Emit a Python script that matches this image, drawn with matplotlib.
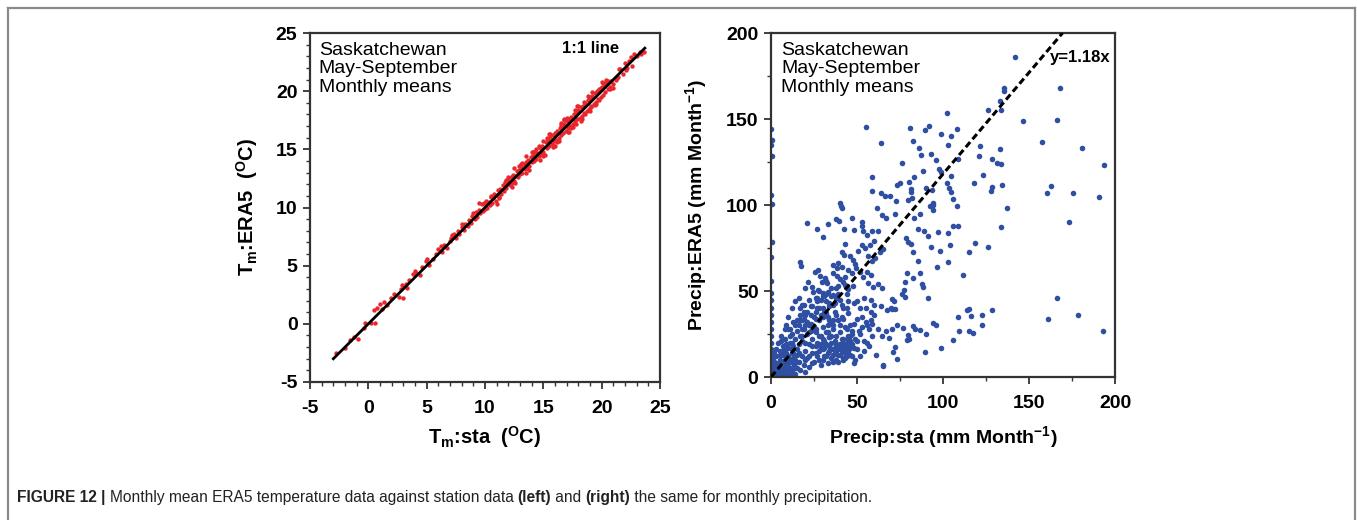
import matplotlib
matplotlib.use("Agg")
import matplotlib.pyplot as plt
from matplotlib.lines import Line2D

plt.rcParams["font.family"] = ["Liberation Sans", "DejaVu Sans"]
plt.rcParams["mathtext.default"] = "regular"
plt.rcParams["axes.unicode_minus"] = False

# ---- monthly mean temperature, station vs ERA5 (deg C) ----
tm_sta_low = [-2.8, -2.0, -1.6, -1.2, -0.9, -0.4, -0.3, 0.2, 0.6, 0.5, 0.7, 1.2, 1.3, 1.6, 1.9,
              2.2, 2.6, 2.8, 3.0, 2.9, 3.2, 3.5, 3.8, 4.1, 4.4, 4.6, 4.9, 5.2, 5.5, 5.8]
tm_era_low = [-2.5, -2.1, -1.4, -1.1, -1.3, -0.4, 0.1, 0.1, 0.1, 1.2, 1.4, 1.3, 1.9, 1.6, 2.2,
              2.6, 2.3, 3.0, 2.2, 3.3, 3.4, 3.8, 4.3, 4.4, 4.2, 4.9, 5.4, 5.1, 5.6, 6.0]

tm_sta_mid = [6.0, 6.3, 6.5, 6.7, 7.0, 7.1, 7.3, 7.5, 7.7, 7.8, 8.0, 8.2, 8.3, 8.5, 8.6, 8.8,
              8.9, 9.1, 9.2, 9.3, 9.5, 9.6, 9.7, 9.8, 9.9, 10.0, 10.1, 10.2]
tm_era_mid = [6.4, 6.2, 6.8, 6.5, 7.1, 7.4, 7.7, 7.4, 8.0, 7.7, 8.3, 8.1, 8.6, 8.4, 8.9, 8.7,
              9.3, 9.0, 9.6, 9.2, 9.8, 9.5, 10.3, 9.7, 10.4, 9.9, 10.6, 10.0]

tm_sta_warm = [10.3, 10.4, 10.5, 10.6, 10.7, 10.8, 10.9, 11.0, 11.1, 11.2,
               11.3, 11.4, 11.5, 11.6, 11.7, 11.8, 11.9, 12.0, 12.1, 12.2,
               12.3, 12.4, 12.5, 12.6, 12.7, 12.8, 12.9, 13.0, 13.1, 13.2,
               13.3, 13.4, 13.5, 13.6, 13.7, 13.8, 13.9, 14.0, 14.1, 14.2,
               14.3, 14.4, 14.5, 14.6, 14.7, 14.8, 14.9, 15.0, 15.1]
tm_era_warm = [10.5, 10.2, 10.9, 10.4, 10.8, 11.2, 10.6, 11.1, 11.5, 10.9,
               11.6, 11.2, 11.9, 11.4, 12.2, 11.7, 12.0, 12.4, 11.9, 12.6,
               12.1, 12.8, 12.3, 12.7, 13.1, 12.6, 13.2, 12.9, 13.5, 13.0,
               13.7, 13.3, 13.9, 13.4, 14.1, 13.6, 14.3, 13.9, 14.5, 14.0,
               14.8, 14.2, 14.7, 14.4, 15.1, 14.6, 15.3, 14.8, 14.5]

tm_sta_hot = [15.2, 15.3, 15.4, 15.5, 15.6, 15.7, 15.8, 15.9, 16.0, 16.1,
              16.2, 16.3, 16.4, 16.5, 16.6, 16.7, 16.8, 16.9, 17.0, 17.1,
              17.2, 17.3, 17.4, 17.5, 17.6, 17.7, 17.8, 17.9, 18.0, 18.1,
              18.2, 18.3, 18.4, 18.5, 18.6, 18.7, 18.8, 18.9, 19.0, 19.1,
              19.2, 19.3, 19.4, 19.5, 19.6, 19.7, 19.8, 19.9, 20.0, 20.1,
              20.2, 20.3, 20.4, 20.5, 20.6, 20.7, 20.8,
              21.0, 21.2, 21.4, 21.6, 21.8, 22.0, 22.1, 22.3, 22.6, 22.8, 23.0, 23.3, 23.6, 23.4, 22.2]
tm_era_hot = [15.6, 15.1, 15.8, 15.3, 16.1, 15.5, 16.2, 15.7, 16.4, 15.8,
              16.6, 16.0, 16.8, 16.2, 17.0, 16.4, 17.2, 16.6, 17.4, 16.8,
              17.6, 17.0, 17.8, 17.2, 18.0, 17.4, 18.1, 17.6, 18.4, 17.7,
              18.6, 17.9, 18.7, 18.1, 19.0, 18.3, 19.2, 18.5, 19.4, 18.7,
              19.6, 18.9, 19.8, 19.1, 20.0, 19.3, 20.2, 19.5, 20.4, 19.7,
              20.6, 19.9, 20.7, 20.2, 20.8, 20.4, 20.9,
              20.6, 21.0, 21.2, 21.9, 21.5, 22.4, 21.8, 22.6, 22.2, 23.2, 23.0, 23.4, 23.4, 23.2, 22.0]

tm_sta_extra = [16.0, 17.5, 18.2, 19.0, 14.0, 15.5, 12.5, 11.0, 16.8, 17.9,
                13.5, 9.5, 15.8, 16.5, 17.2, 18.8, 19.4, 20.0, 14.6, 13.0]
tm_era_extra = [15.3, 16.9, 17.4, 18.3, 14.8, 16.3, 13.4, 10.3, 17.6, 18.7,
                14.4, 10.4, 15.2, 17.3, 16.5, 19.6, 18.8, 20.8, 15.3, 13.6]

tm_sta_band = [12.0, 12.6, 13.2, 13.8, 14.4, 15.0, 15.6, 16.2, 16.8, 17.4, 18.0, 18.6, 19.2, 19.8, 20.4, 21.0,
               12.3, 12.9, 13.5, 14.1, 14.7, 15.3, 15.9, 16.5, 17.1, 17.7, 18.3, 18.9, 19.5, 20.1, 20.7, 21.3,
               10.5, 11.2, 11.8, 9.0, 8.0, 7.2, 6.2, 5.0, 4.0, 3.3, 1.0,
               16.3, 17.0, 17.8, 18.5, 19.1, 19.9, 20.5, 15.0, 14.2, 13.1, 22.5, 21.5]
tm_era_band = [12.6, 12.1, 13.8, 13.2, 15.0, 14.4, 16.3, 15.6, 17.5, 16.8, 18.7, 18.0, 19.9, 19.2, 21.0, 20.3,
               11.8, 13.6, 13.0, 14.8, 14.1, 16.0, 15.3, 17.1, 16.5, 18.4, 17.6, 19.5, 18.9, 20.7, 20.2, 21.1,
               11.0, 10.8, 12.4, 9.5, 8.6, 7.6, 6.7, 5.6, 4.5, 3.1, 1.7,
               15.7, 17.7, 17.2, 19.1, 18.6, 20.3, 20.9, 15.7, 14.8, 13.7, 22.9, 21.9]

# ---- monthly precipitation, station vs ERA5 (mm/month) ----
pr_sta_axis = [0, 0, 0, 0.8, 0.8, 0.8, 0.8, 0, 0, 0, 0, 0, 0, 0, 0, 0, 0, 0, 0, 0, 0, 0, 0.5]
pr_era_axis = [144, 135, 106, 138, 128.7, 100.6, 78.4, 70, 56, 49, 45, 40, 36, 32, 28, 24,
               20, 16, 12, 8, 5, 3, 1]

pr_sta_high = [55, 64, 80.8, 89.4, 92, 102.5, 98.6, 104.6, 108.3, 125.9,
               82.7, 86.2, 87, 92.8, 95.9, 102.9, 108.7, 121.3, 120.7, 128.6,
               132.9, 131.5, 133.5, 76, 97.5, 99.1, 88.2, 104.4, 123.4, 83.3,
               58.5, 80.4, 75, 73.4, 102.1, 118, 128.3, 128, 134.5, 103.7,
               104.6, 81.2, 81.4, 90, 93.8, 58.5, 64, 66.3, 69.2, 72.5,
               106, 79.8, 81.8, 92.3, 94.4, 40.7]
pr_era_high = [145.5, 135.8, 145, 143.8, 145.7, 153.7, 141.3, 140, 144.4, 155.5,
               137.2, 133, 129, 129.5, 126.2, 134.9, 126.6, 134.5, 128.7, 127,
               132.8, 124.4, 124, 124.5, 121, 119, 120, 117, 117.6, 116.2,
               116.2, 113.3, 112.9, 111.9, 112.7, 112.7, 110.7, 108.4, 111.9, 109.6,
               107.3, 109.2, 107.3, 109.8, 108.6, 107.9, 107.1, 105.5, 105.1, 102.6,
               103.5, 103, 104.3, 99.5, 99.9, 99.5]

pr_sta_out = [141.9, 168, 135.7, 135.2, 133, 134, 146.3, 166, 157.4, 181,
              193.6, 162.8, 160.3, 175.8, 190.5, 137, 173.5, 133.5, 126, 166.5,
              161, 178.5, 193.2, 128.5]
pr_era_out = [185.8, 168, 168, 166, 160.5, 155, 149, 149.4, 136.8, 133,
              123, 111.2, 106.8, 106.8, 104.8, 98, 90.3, 87.4, 75.8, 45.7,
              33.5, 35.8, 26.5, 38.7]

pr_sta_mid = [94.4, 108, 86.6, 94.4, 72, 66.9, 83.4, 105.7, 109, 85.3,
              89, 97, 102.8, 91, 78.4, 79.4, 81.3, 92.9, 104, 118.5,
              98.4, 82.3, 115.2, 103.1, 85.7, 96.4, 111.8, 86.6, 78.9, 82.8,
              77.9, 87.6, 88.6, 77.5, 76.2, 70.4, 71.4, 78, 91, 70.4,
              72.3, 67.6, 63.7, 113.7, 115.2, 108.6, 116.4, 122.7, 94.4, 96,
              82.8, 83.7, 77, 73.1, 70.4, 67, 86.6, 90.1, 109.4, 115.2,
              117.6, 122.7, 64.7, 68.6, 79.4, 80.3, 79, 72.3, 105.7, 98.8,
              71, 89.5, 73.3, 65.2]
pr_era_mid = [101, 99.4, 95, 97, 95, 92.6, 92.6, 88, 88, 86,
              85, 84.5, 83.6, 82, 81, 78.3, 77.3, 75.8, 77, 77.7,
              73.3, 72.5, 72.5, 66.7, 67.6, 64.1, 59.5, 60.7, 60.3, 57.6,
              55, 54, 52.5, 50.6, 48.3, 45.4, 44.4, 46.4, 45.8, 39.5,
              39.5, 39, 41, 38.7, 39.7, 34.9, 35.3, 35.9, 31.4, 30.2,
              29.7, 27.7, 28.7, 30, 27.7, 26.7, 27.1, 24.8, 26.7, 26.7,
              25.4, 30, 23.8, 22.8, 24.2, 22.3, 21.5, 17.6, 21.5, 17.1,
              14.6, 14.6, 10.4, 6.5]

pr_sta_upper = [40.1, 41.5, 20.7, 26.5, 32.9, 30.4, 37.5, 39.4, 42.6, 47.3,
                53.1, 52.7, 48, 53.7, 55.6, 58.5, 62.4, 61.4, 64.7, 43,
                41.1, 42.6, 52.7, 54.7, 50.8, 57.6, 60.1, 45.9, 47.8, 48.8,
                56.6, 58.5, 60.5, 63.4, 65.3, 16.8, 17.4, 25.6, 27.5, 28.5,
                31.4, 29.5, 32.4, 36.3, 38.2, 39.2, 41.1, 35.9, 38.2, 40.1,
                42.1, 45, 46.9, 49.4, 51.7, 53.7, 55.6, 57.9, 43, 45,
                47.8, 56.6, 59.5, 62, 64.3, 21.7, 23.6, 19.8, 24.6, 27.5,
                30.4, 33.3, 36.3]
pr_era_upper = [101, 98, 89.3, 85.8, 88.9, 81.6, 91.6, 90.8, 86.2, 92.4,
                90.4, 87.9, 85.2, 84.6, 82.7, 84.6, 84.6, 98.4, 93.9, 77.3,
                72.7, 70.7, 76.9, 75, 73.4, 76.9, 78.8, 70.6, 68.3, 65.7,
                70.6, 67.7, 69.1, 72.5, 74.4, 67.1, 64.8, 61.3, 62.2, 59,
                57.5, 55.5, 54.6, 65.1, 63.2, 66.1, 64.2, 60.3, 58.9, 57,
                55.4, 62.2, 60.3, 63.2, 60.9, 58.3, 61.2, 59.3, 53.6, 51.3,
                52.7, 54.6, 52.1, 54, 51.7, 55.5, 52.5, 51.6, 49.7, 50.6,
                48.7, 49.7, 47.7]

pr_sta_origin = [1, 2, 2, 3, 3, 4, 4, 5, 5, 5, 6, 6, 6, 7, 7, 7, 8, 8, 8, 9,
                 9, 9, 10, 10, 10, 11, 11, 11, 12, 12, 12, 12, 13, 13, 13, 14, 14, 14, 15, 15,
                 15, 15, 3, 4, 2, 6, 8, 1, 1, 7, 9, 11, 13, 14, 10]
pr_era_origin = [2, 5, 9, 1, 12, 4, 7, 2, 10, 15, 5, 8, 13, 1, 3, 18, 6, 10, 22, 2,
                 14, 4, 8, 12, 17, 1, 5, 20, 3, 9, 14, 25, 6, 11, 18, 2, 8, 22, 5, 13,
                 16, 27, 16, 20, 14, 24, 28, 6, 10, 9, 7, 10, 14, 5, 4]

pr_sta_core = [16, 17, 18, 16, 17, 19, 20, 20, 18, 19, 21, 22, 22, 16, 18, 20, 22, 23, 24, 24,
               25, 25, 26, 26, 27, 27, 28, 28, 29, 29, 30, 30, 31, 31, 32, 32, 33, 33, 34, 34,
               35, 35, 36, 37, 37, 38, 38, 39, 39, 40, 41, 41, 42, 43, 43, 44, 45, 45, 46, 47,
               48, 48, 49, 50, 50, 51, 52, 53, 54, 55, 56, 57, 58, 59, 60, 61, 62, 65]
pr_era_core = [9, 4, 12, 19, 24, 7, 3, 15, 21, 28, 11, 6, 19, 30, 33, 36, 26, 31, 14, 22,
               9, 35, 18, 28, 40, 12, 24, 33, 7, 45, 16, 29, 38, 21, 12, 48, 26, 35, 15, 43,
               20, 31, 9, 17, 38, 24, 46, 13, 33, 19, 15, 42, 22, 11, 29, 17, 24, 37, 13, 19,
               8, 31, 22, 16, 44, 27, 12, 35, 21, 40, 30, 18, 45, 24, 36, 13, 28, 7]

pr_sta_lobe = [26, 27, 28, 29, 30, 31, 32, 33, 34, 35, 36, 37, 38, 39, 40, 41, 42, 43, 44, 45,
               46, 47, 48, 30, 33, 36, 39, 42, 45, 28, 31, 34, 37, 40, 43, 46, 35, 38, 41, 44,
               47, 49, 50, 52, 54, 56, 58, 55, 57, 59, 53]
pr_era_lobe = [14, 20, 10, 17, 22, 12, 19, 14, 23, 11, 16, 21, 10, 18, 13, 22, 16, 19, 12, 15,
               21, 12, 17, 10, 8, 13, 9, 10, 20, 15, 17, 18, 14, 16, 14, 17, 24, 19, 19, 22,
               25, 10, 21, 25, 15, 20, 33, 32, 28, 31, 29]

pr_sta_band = [15, 17, 18, 19, 20, 21, 22, 23, 24, 26, 27, 29, 30, 32, 35, 36, 39, 44, 24, 26,
               28, 30, 32, 34, 36, 38, 40, 42, 44, 46, 48, 50, 52, 54, 58, 60, 70, 14, 12, 10,
               9, 11, 13, 17, 19, 21, 23, 16]
pr_era_band = [33, 40, 28, 42, 30, 38, 45, 36, 41, 38, 46, 36, 40, 44, 47, 42, 48, 48, 30, 34,
               40, 47, 37, 33, 28, 36, 30, 34, 40, 30, 43, 34, 40, 46, 38, 42, 40, 44, 40, 35,
               30, 28, 32, 36, 34, 32, 27, 46]

pr_sta_dense = [2, 4, 6, 8, 10, 12, 14, 3, 5, 7, 9, 11, 13,
                16, 18, 20, 22, 24,
                17, 19, 21, 23, 25, 27, 29, 31, 33, 35, 37, 39, 41, 43, 45, 47,
                30, 32, 34, 36, 38, 40, 42, 44, 46,
                26, 28, 30, 32, 34, 36, 38, 40, 42, 44,
                20, 22, 24, 26, 28, 18, 14, 12, 10, 8, 6]
pr_era_dense = [3, 6, 2, 12, 6, 16, 10, 8, 13, 15, 19, 24, 9,
                14, 24, 10, 30, 18,
                33, 38, 25, 41, 29, 44, 24, 47, 30, 52, 43, 53, 35, 58, 44, 27,
                20, 26, 23, 30, 15, 26, 11, 28, 24,
                46, 50, 35, 56, 41, 33, 52, 45, 40, 53,
                20, 12, 8, 26, 19, 42, 30, 20, 28, 16, 21]

tm_sta = tm_sta_low + tm_sta_mid + tm_sta_warm + tm_sta_hot + tm_sta_extra + tm_sta_band
tm_era = tm_era_low + tm_era_mid + tm_era_warm + tm_era_hot + tm_era_extra + tm_era_band
pr_sta = (pr_sta_axis + pr_sta_high + pr_sta_out + pr_sta_mid + pr_sta_upper
          + pr_sta_origin + pr_sta_core + pr_sta_lobe + pr_sta_band + pr_sta_dense)
pr_era = (pr_era_axis + pr_era_high + pr_era_out + pr_era_mid + pr_era_upper
          + pr_era_origin + pr_era_core + pr_era_lobe + pr_era_band + pr_era_dense)

one_to_one = [-3, 23.7]
slope = 1.18
line_end = 200 / slope

W, H = 1357, 520
fig = plt.figure(figsize=(W / 100, H / 100), dpi=100)

ax1 = fig.add_axes([310 / W, 1 - 382 / H, 350 / W, 349 / H])
ax2 = fig.add_axes([771 / W, 1 - 377 / H, 344 / W, 344 / H])


def style_axis(ax, lo, hi, major, minor):
    ax.set_xlim(lo, hi)
    ax.set_ylim(lo, hi)
    ax.set_xticks(range(lo, hi + 1, major))
    ax.set_yticks(range(lo, hi + 1, major))
    ax.set_xticks(range(lo, hi + 1, minor), minor=True)
    ax.set_yticks(range(lo, hi + 1, minor), minor=True)
    ax.tick_params(which="major", direction="out", length=5, width=1.3,
                   labelsize=14, pad=4, color="#333333")
    ax.tick_params(axis="x", which="major", pad=8)
    ax.tick_params(which="minor", direction="out", length=3, width=1.0, color="#333333")
    for lab in ax.get_xticklabels() + ax.get_yticklabels():
        lab.set_fontweight("bold")
    for sp in ax.spines.values():
        sp.set_linewidth(1.6)
        sp.set_color("#333333")


# left panel: temperature
ax1.scatter(tm_sta, tm_era, s=10, color="#e8262c", linewidths=0, zorder=2)
ax1.plot(one_to_one, one_to_one, color="black", lw=2, zorder=3)
style_axis(ax1, -5, 25, 5, 1)
ax1.set_xlabel("T$_m$:sta  ($^O$C)", fontsize=14.5, fontweight="bold", labelpad=5)
ax1.set_ylabel("T$_m$:ERA5  ($^O$C)", fontsize=14.5, fontweight="bold", labelpad=11)
ax1.text(0.025, 0.975, "Saskatchewan\nMay-September\nMonthly means", transform=ax1.transAxes,
         fontsize=14, va="top", ha="left", linespacing=1.12)
ax1.text(0.72, 0.955, "1:1 line", transform=ax1.transAxes, fontsize=12,
         fontweight="bold", va="center", ha="left")

# right panel: precipitation
ax2.scatter(pr_sta, pr_era, s=16, color="#2f4fa2", linewidths=0, zorder=2)
ax2.plot([0, line_end], [0, 200], color="black", lw=2.2,
         linestyle=(0, (2.2, 1.2)), zorder=3)
style_axis(ax2, 0, 200, 50, 25)
ax2.set_xlabel("Precip:sta (mm Month$^{-1}$)", fontsize=14, fontweight="bold", labelpad=9)
ax2.set_ylabel("Precip:ERA5 (mm Month$^{-1}$)", fontsize=14, fontweight="bold", labelpad=12)
ax2.text(0.03, 0.975, "Saskatchewan\nMay-September\nMonthly means", transform=ax2.transAxes,
         fontsize=14, va="top", ha="left", linespacing=1.12)
ax2.text(0.81, 0.93, "y=1.18x", transform=ax2.transAxes, fontsize=12,
         fontweight="bold", va="center", ha="left")

# frame around the figure (open at the bottom)
frame = dict(color="#8a8a8a", lw=1.6, transform=fig.transFigure, clip_on=False)
fig.add_artist(Line2D([7.5 / W, 1355 / W], [1 - 7.5 / H, 1 - 7.5 / H], **frame))
fig.add_artist(Line2D([7.5 / W, 7.5 / W], [0, 1 - 7.5 / H], **frame))
fig.add_artist(Line2D([1355 / W, 1355 / W], [0, 1 - 7.5 / H], **frame))

# caption, mixing bold and regular runs on a shared baseline
pieces = [
    ("FIGURE 12 | ", "bold"),
    ("Monthly mean ERA5 temperature data against station data ", "normal"),
    ("(left)", "bold"),
    (" and ", "normal"),
    ("(right)", "bold"),
    (" the same for monthly precipitation.", "normal"),
]
fig.canvas.draw()
renderer = fig.canvas.get_renderer()
x = 17
for txt, weight in pieces:
    t = fig.text(x / W, 1 - 502 / H, txt, fontsize=11.2, fontweight=weight,
                 va="baseline", ha="left", color="#222222")
    x += t.get_window_extent(renderer=renderer).width

fig.savefig("out.png", dpi=100)
